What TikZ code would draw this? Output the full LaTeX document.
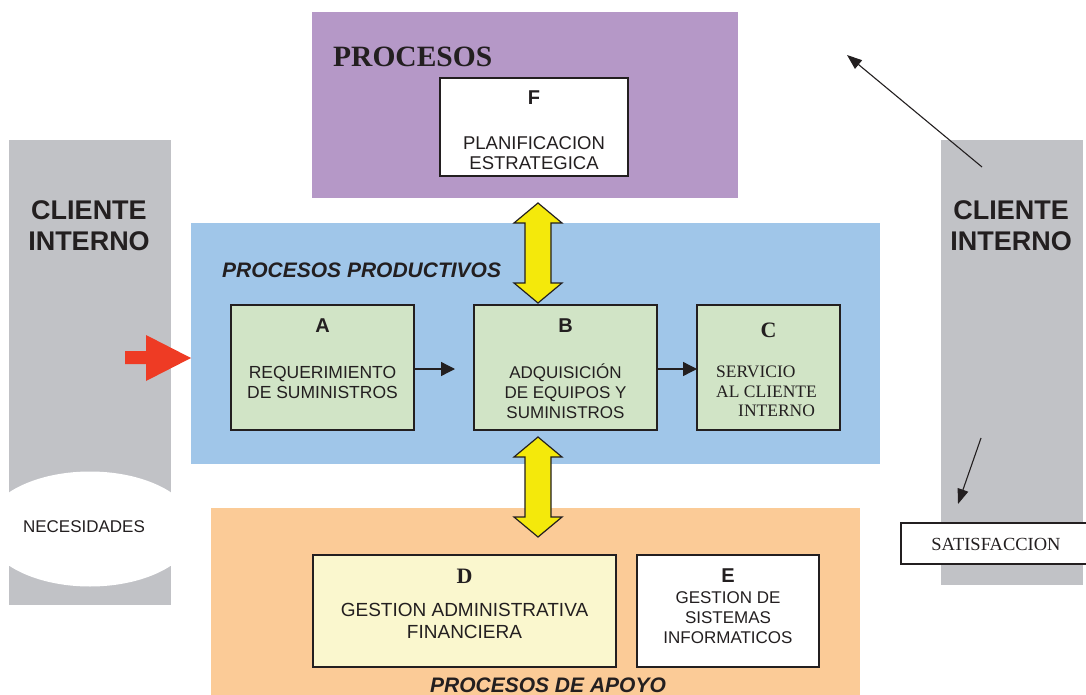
\documentclass[tikz,border=0pt]{standalone}
\usepackage{fontspec}
\setmainfont{Liberation Serif}
\setsansfont{Liberation Sans}
\usetikzlibrary{arrows.meta,calc,shapes.geometric}

\definecolor{inkc}{HTML}{231F20}
\definecolor{purplec}{HTML}{B598C7}
\definecolor{bluec}{HTML}{A0C6E9}
\definecolor{greenc}{HTML}{D1E4C6}
\definecolor{orangec}{HTML}{FBCB97}
\definecolor{creamc}{HTML}{FAF7CE}
\definecolor{greyc}{HTML}{C1C2C6}
\definecolor{yelw}{HTML}{F4E90B}
\definecolor{redc}{HTML}{EE3B24}

% double-headed yellow arrow between two points on one vertical line
\newcommand\ydouble[2]{%
  \draw[fill=yelw, draw=inkc, line width=1.2pt, line join=miter]
    (#1) -- ($(#1)+(24,20)$) -- ($(#1)+(13,20)$) -- ($(#2)+(13,-20)$)
    -- ($(#2)+(24,-20)$) -- (#2) -- ($(#2)+(-24,-20)$) -- ($(#2)+(-13,-20)$)
    -- ($(#1)+(-13,20)$) -- ($(#1)+(-24,20)$) -- cycle;}

\tikzset{
  panel/.style={draw=none, inner sep=0, outer sep=0, rectangle},
  box/.style={draw=inkc, line width=1.3pt, inner sep=0, outer sep=0, rectangle},
  sanslbl/.style={font=\sffamily\fontsize{17}{20}\selectfont, text=inkc, align=center, inner sep=0},
  seriflbl/.style={font=\rmfamily\fontsize{17.5}{20}\selectfont, text=inkc, align=center, inner sep=0},
  sansletter/.style={font=\sffamily\bfseries\fontsize{20}{20}\selectfont, text=inkc, inner sep=0},
  serifletter/.style={font=\rmfamily\bfseries\fontsize{22}{22}\selectfont, text=inkc, inner sep=0},
  groupttl/.style={font=\sffamily\bfseries\itshape\fontsize{21}{24}\selectfont, text=inkc, inner sep=0},
  clientttl/.style={font=\sffamily\bfseries\fontsize{27}{31}\selectfont, text=inkc, align=center, inner sep=0},
  flow/.style={draw=inkc, line width=1.3pt, -{Triangle[length=14pt,width=14pt]}},
  thinflow/.style={draw=inkc, line width=1.1pt, -{Triangle[length=15pt,width=11pt]}}
}

\begin{document}
\begin{tikzpicture}[x=1pt, y=-1pt]
  \clip (0,0) rectangle (1086,695);
  \fill[white] (0,0) rectangle (1086,695);

  % client columns
  \node[panel, fill=greyc, minimum width=162pt, minimum height=465pt] (cl) at (90,372.5) {};
  \node[panel, fill=greyc, minimum width=142pt, minimum height=445pt] (cr) at (1012,362.5) {};
  \node[clientttl] (cltxt) at (89,225.5) {CLIENTE\\INTERNO};
  \node[clientttl] (crtxt) at (1011,225.5) {CLIENTE\\INTERNO};

  % needs ellipse on the left column
  \node[ellipse, fill=white, draw=none, minimum width=210pt, minimum height=115pt, inner sep=0] (nec) at (90,529) {};
  \node[sanslbl] (nectxt) at (84,527) {NECESIDADES};

  % strategic processes
  \node[panel, fill=purplec, minimum width=426pt, minimum height=186pt] (proc) at (525,105) {};
  \node[font=\rmfamily\bfseries\fontsize{29.5}{30}\selectfont, text=inkc, inner sep=0, anchor=west] (proctxt) at (333,57) {PROCESOS};
  \node[box, fill=white, minimum width=188pt, minimum height=98pt] (F) at (534,127) {};
  \node[sansletter] (Fl) at ($(F.north)+(0,20)$) {F};
  \node[sanslbl, font=\sffamily\fontsize{18.5}{20}\selectfont] (Ft) at ($(F.center)+(0,26)$) {PLANIFICACION\\ESTRATEGICA};

  % productive processes
  \node[panel, fill=bluec, minimum width=689pt, minimum height=241pt] (prod) at (535.5,343.5) {};
  \node[groupttl, anchor=west] (prodtxt) at (222,270) {PROCESOS PRODUCTIVOS};

  \node[box, fill=greenc, minimum width=183pt, minimum height=125pt] (A) at (322.5,367.5) {};
  \node[box, fill=greenc, minimum width=183pt, minimum height=125pt] (B) at (565.5,367.5) {};
  \node[box, fill=greenc, minimum width=143pt, minimum height=125pt] (C) at (768.5,367.5) {};

  \node[sansletter] (Al) at ($(A.north)+(0,21)$) {A};
  \node[sanslbl, font=\sffamily\fontsize{17.5}{20}\selectfont] (At) at ($(A.center)+(0,15)$) {REQUERIMIENTO\\DE SUMINISTROS};
  \node[sansletter] (Bl) at ($(B.north)+(0,21)$) {B};
  \node[sanslbl] (Bt) at ($(B.center)+(0,24)$) {ADQUISICIÓN\\DE EQUIPOS Y\\SUMINISTROS};
  \node[serifletter] (Cl) at ($(C.north)+(0,25)$) {C};
  \node[seriflbl, anchor=west] (Ct1) at (716,372) {SERVICIO};
  \node[seriflbl, anchor=west] (Ct2) at (716,392) {AL CLIENTE};
  \node[seriflbl, anchor=west] (Ct3) at (738,411) {INTERNO};

  \coordinate (abEnd) at (455,369);
  \draw[flow] (A.east |- abEnd) -- (abEnd);
  \draw[flow] (B.east |- abEnd) -- (C.west |- abEnd);

  % support processes
  \node[panel, fill=orangec, minimum width=649pt, minimum height=190pt] (sup) at (535.5,603) {};
  \node[box, fill=creamc, minimum width=303pt, minimum height=112pt] (D) at (464.5,611) {};
  \node[box, fill=white, minimum width=182pt, minimum height=112pt] (E) at (728,611) {};
  \node[serifletter] (Dl) at ($(D.north)+(0,21)$) {D};
  \node[sanslbl, font=\sffamily\fontsize{19}{22}\selectfont] (Dt) at ($(D.center)+(0,10)$) {GESTION ADMINISTRATIVA\\FINANCIERA};
  \node[sansletter] (El) at ($(E.north)+(0,21)$) {E};
  \node[sanslbl] (Et) at ($(E.center)+(0,7)$) {GESTION DE\\SISTEMAS\\INFORMATICOS};
  \node[groupttl] (suptxt) at (548,685) {PROCESOS DE APOYO};

  % yellow links between the process levels
  \coordinate (y1t) at (538,203);
  \coordinate (y1b) at (538,303);
  \coordinate (y2t) at (538,437);
  \coordinate (y2b) at (538,537);
  \ydouble{y1t}{y1b}
  \ydouble{y2t}{y2b}

  % red input arrow
  \coordinate (rt) at (prod.west |- 0,358);
  \fill[redc] (rt) -- ++(-45,-23) -- ++(0,16) -- ++(-21,0) -- ++(0,13)
    -- ++(21,0) -- ++(0,17) -- cycle;

  % satisfaction output
  \node[box, fill=white, minimum width=189pt, minimum height=41pt] (sat) at (995.5,543.5) {};
  \node[seriflbl, font=\rmfamily\fontsize{18.5}{20}\selectfont] (sattxt) at (996,544) {SATISFACCION};

  \coordinate (s1) at (982,167);
  \coordinate (e1) at (847,55);
  \draw[thinflow] (s1) -- (e1);
  \coordinate (s2) at (981,438);
  \coordinate (e2) at (958,504);
  \draw[thinflow] (s2) -- (e2);
\end{tikzpicture}
\end{document}
